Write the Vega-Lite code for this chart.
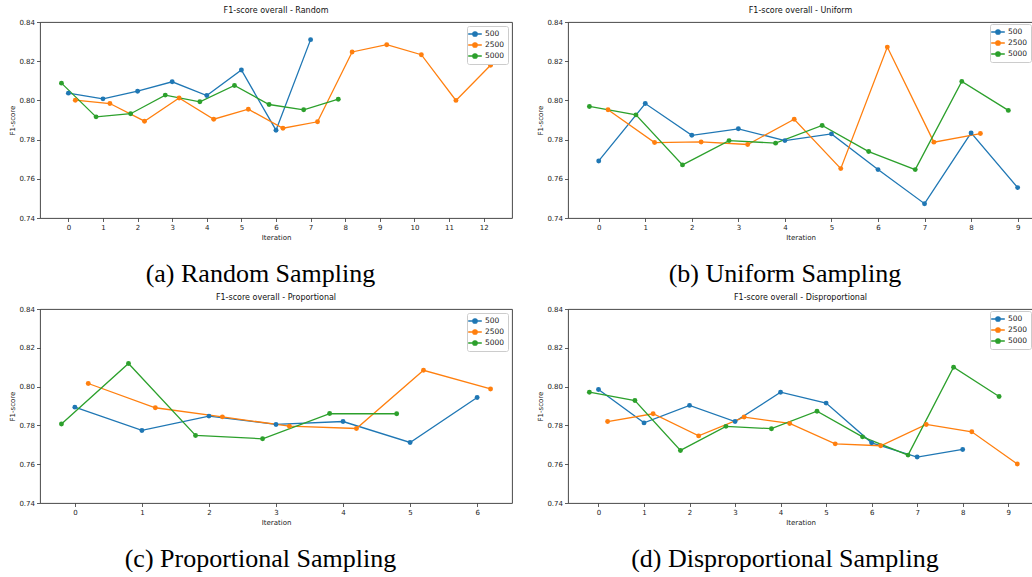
{
  "$schema": "https://vega.github.io/schema/vega-lite/v6.json",
  "padding": {"left": 8, "top": 6, "right": 0, "bottom": 0},
  "background": "white",
  "config": {
    "font": "DejaVu Sans",
    "view": {"stroke": "#333", "strokeWidth": 0.9},
    "axis": {"domain": false, "grid": false, "tickColor": "#333", "tickSize": 3.5, "tickWidth": 0.8, "labelFont": "DejaVu Sans", "labelFontSize": 7, "labelColor": "#222", "labelPadding": 2, "titleFont": "DejaVu Sans", "titleFontSize": 7, "titleFontWeight": "normal", "titleColor": "#222", "titlePadding": 3},
    "title": {"font": "DejaVu Sans", "fontSize": 8, "fontWeight": "normal", "color": "#111", "offset": 3},
    "legend": {"labelFont": "DejaVu Sans", "labelFontSize": 7.5, "labelColor": "#222", "title": null, "fillColor": "white", "strokeColor": "#ccc", "cornerRadius": 2, "padding": 3, "rowPadding": 1, "labelOffset": 5, "symbolType": "M-1.7,0L1.7,0M0.55,0A0.55,0.55,0,1,1,-0.55,0A0.55,0.55,0,1,1,0.55,0Z", "symbolSize": 64, "symbolStrokeWidth": 1.3}
  },
  "datasets": {
    "random": [
      {"size": "500", "x": 0, "f1": 0.8037}, {"size": "500", "x": 1, "f1": 0.8008}, {"size": "500", "x": 2, "f1": 0.8047}, {"size": "500", "x": 3, "f1": 0.8095}, {"size": "500", "x": 4, "f1": 0.8025}, {"size": "500", "x": 5, "f1": 0.8155}, {"size": "500", "x": 6, "f1": 0.7848}, {"size": "500", "x": 7, "f1": 0.8310},
      {"size": "2500", "x": 0.2, "f1": 0.8001}, {"size": "2500", "x": 1.2, "f1": 0.7984}, {"size": "2500", "x": 2.2, "f1": 0.7894}, {"size": "2500", "x": 3.2, "f1": 0.8012}, {"size": "2500", "x": 4.2, "f1": 0.7904}, {"size": "2500", "x": 5.2, "f1": 0.7955}, {"size": "2500", "x": 6.2, "f1": 0.7858}, {"size": "2500", "x": 7.2, "f1": 0.7891}, {"size": "2500", "x": 8.2, "f1": 0.8247}, {"size": "2500", "x": 9.2, "f1": 0.8284}, {"size": "2500", "x": 10.2, "f1": 0.8233}, {"size": "2500", "x": 11.2, "f1": 0.8000}, {"size": "2500", "x": 12.2, "f1": 0.8179},
      {"size": "5000", "x": -0.2, "f1": 0.8088}, {"size": "5000", "x": 0.8, "f1": 0.7916}, {"size": "5000", "x": 1.8, "f1": 0.7932}, {"size": "5000", "x": 2.8, "f1": 0.8027}, {"size": "5000", "x": 3.8, "f1": 0.7993}, {"size": "5000", "x": 4.8, "f1": 0.8076}, {"size": "5000", "x": 5.8, "f1": 0.7979}, {"size": "5000", "x": 6.8, "f1": 0.7952}, {"size": "5000", "x": 7.8, "f1": 0.8006}
    ],
    "uniform": [
      {"size": "500", "x": 0, "f1": 0.7691}, {"size": "500", "x": 1, "f1": 0.7984}, {"size": "500", "x": 2, "f1": 0.7822}, {"size": "500", "x": 3, "f1": 0.7855}, {"size": "500", "x": 4, "f1": 0.7795}, {"size": "500", "x": 5, "f1": 0.7829}, {"size": "500", "x": 6, "f1": 0.7647}, {"size": "500", "x": 7, "f1": 0.7473}, {"size": "500", "x": 8, "f1": 0.7834}, {"size": "500", "x": 9, "f1": 0.7555},
      {"size": "2500", "x": 0.2, "f1": 0.7952}, {"size": "2500", "x": 1.2, "f1": 0.7785}, {"size": "2500", "x": 2.2, "f1": 0.7788}, {"size": "2500", "x": 3.2, "f1": 0.7775}, {"size": "2500", "x": 4.2, "f1": 0.7904}, {"size": "2500", "x": 5.2, "f1": 0.7652}, {"size": "2500", "x": 6.2, "f1": 0.8272}, {"size": "2500", "x": 7.2, "f1": 0.7787}, {"size": "2500", "x": 8.2, "f1": 0.7831},
      {"size": "5000", "x": -0.2, "f1": 0.7969}, {"size": "5000", "x": 0.8, "f1": 0.7926}, {"size": "5000", "x": 1.8, "f1": 0.7671}, {"size": "5000", "x": 2.8, "f1": 0.7795}, {"size": "5000", "x": 3.8, "f1": 0.7782}, {"size": "5000", "x": 4.8, "f1": 0.7872}, {"size": "5000", "x": 5.8, "f1": 0.7739}, {"size": "5000", "x": 6.8, "f1": 0.7647}, {"size": "5000", "x": 7.8, "f1": 0.8097}, {"size": "5000", "x": 8.8, "f1": 0.7949}
    ],
    "proportional": [
      {"size": "500", "x": 0, "f1": 0.7894}, {"size": "500", "x": 1, "f1": 0.7774}, {"size": "500", "x": 2, "f1": 0.7848}, {"size": "500", "x": 3, "f1": 0.7805}, {"size": "500", "x": 4, "f1": 0.7820}, {"size": "500", "x": 5, "f1": 0.7712}, {"size": "500", "x": 6, "f1": 0.7944},
      {"size": "2500", "x": 0.2, "f1": 0.8016}, {"size": "2500", "x": 1.2, "f1": 0.7891}, {"size": "2500", "x": 2.2, "f1": 0.7844}, {"size": "2500", "x": 3.2, "f1": 0.7796}, {"size": "2500", "x": 4.2, "f1": 0.7784}, {"size": "2500", "x": 5.2, "f1": 0.8084}, {"size": "2500", "x": 6.2, "f1": 0.7988},
      {"size": "5000", "x": -0.2, "f1": 0.7807}, {"size": "5000", "x": 0.8, "f1": 0.8119}, {"size": "5000", "x": 1.8, "f1": 0.7748}, {"size": "5000", "x": 2.8, "f1": 0.7731}, {"size": "5000", "x": 3.8, "f1": 0.7861}, {"size": "5000", "x": 4.8, "f1": 0.7860}
    ],
    "disproportional": [
      {"size": "500", "x": 0, "f1": 0.7985}, {"size": "500", "x": 1, "f1": 0.7813}, {"size": "500", "x": 2, "f1": 0.7903}, {"size": "500", "x": 3, "f1": 0.7820}, {"size": "500", "x": 4, "f1": 0.7971}, {"size": "500", "x": 5, "f1": 0.7915}, {"size": "500", "x": 6, "f1": 0.7710}, {"size": "500", "x": 7, "f1": 0.7637}, {"size": "500", "x": 8, "f1": 0.7676},
      {"size": "2500", "x": 0.2, "f1": 0.7820}, {"size": "2500", "x": 1.2, "f1": 0.7860}, {"size": "2500", "x": 2.2, "f1": 0.7746}, {"size": "2500", "x": 3.2, "f1": 0.7843}, {"size": "2500", "x": 4.2, "f1": 0.7810}, {"size": "2500", "x": 5.2, "f1": 0.7705}, {"size": "2500", "x": 6.2, "f1": 0.7695}, {"size": "2500", "x": 7.2, "f1": 0.7805}, {"size": "2500", "x": 8.2, "f1": 0.7767}, {"size": "2500", "x": 9.2, "f1": 0.7601},
      {"size": "5000", "x": -0.2, "f1": 0.7971}, {"size": "5000", "x": 0.8, "f1": 0.7928}, {"size": "5000", "x": 1.8, "f1": 0.7671}, {"size": "5000", "x": 2.8, "f1": 0.7795}, {"size": "5000", "x": 3.8, "f1": 0.7783}, {"size": "5000", "x": 4.8, "f1": 0.7873}, {"size": "5000", "x": 5.8, "f1": 0.7741}, {"size": "5000", "x": 6.8, "f1": 0.7647}, {"size": "5000", "x": 7.8, "f1": 0.8100}, {"size": "5000", "x": 8.8, "f1": 0.7949}
    ]
  },
  "columns": 2,
  "spacing": {"row": 6, "column": 23},
  "resolve": {"scale": {"color": "independent", "x": "independent", "y": "independent"}, "legend": {"color": "independent"}},
  "concat": [
    {
      "title": {"text": "(a) Random Sampling", "orient": "bottom", "font": "Liberation Serif", "fontSize": 26, "color": "#000", "offset": 20, "anchor": "middle"},
      "resolve": {"scale": {"color": "independent"}, "legend": {"color": "independent"}},
      "vconcat": [{
        "title": "F1-score overall - Random",
        "width": 472, "height": 196,
        "data": {"name": "random"},
        "encoding": {
          "x": {"field": "x", "type": "quantitative", "scale": {"domain": [-0.82, 12.82], "nice": false, "zero": false}, "axis": {"values": [0,1,2,3,4,5,6,7,8,9,10,11,12], "title": "Iteration", "format": "d"}},
          "y": {"field": "f1", "type": "quantitative", "scale": {"domain": [0.74, 0.84], "nice": false, "zero": false}, "axis": {"values": [0.74,0.76,0.78,0.8,0.82,0.84], "format": ".2f", "title": "F1-score"}},
          "color": {"field": "size", "type": "nominal", "scale": {"domain": ["500","2500","5000"], "range": ["#1f77b4","#ff7f0e","#2ca02c"]},
            "legend": {"orient": "top-right", "offset": 4,
              "encode": {"symbols": {"update": {"fill": {"signal": "datum.value === '500' ? '#1f77b4' : datum.value === '2500' ? '#ff7f0e' : '#2ca02c'"}, "stroke": {"signal": "datum.value === '500' ? '#1f77b4' : datum.value === '2500' ? '#ff7f0e' : '#2ca02c'"}, "opacity": {"value": 1}}}}}}
        },
        "layer": [
          {"mark": {"type": "line", "strokeWidth": 1.3}},
          {"mark": {"type": "circle", "size": 24, "opacity": 1}}
        ]
      }]
    },
    {
      "title": {"text": "(b) Uniform Sampling", "orient": "bottom", "font": "Liberation Serif", "fontSize": 26, "color": "#000", "offset": 20, "anchor": "middle"},
      "resolve": {"scale": {"color": "independent"}, "legend": {"color": "independent"}},
      "vconcat": [{
        "title": "F1-score overall - Uniform",
        "width": 465, "height": 196,
        "data": {"name": "uniform"},
        "encoding": {
          "x": {"field": "x", "type": "quantitative", "scale": {"domain": [-0.66, 9.33], "nice": false, "zero": false}, "axis": {"values": [0,1,2,3,4,5,6,7,8,9], "title": "Iteration", "format": "d"}},
          "y": {"field": "f1", "type": "quantitative", "scale": {"domain": [0.74, 0.84], "nice": false, "zero": false}, "axis": {"values": [0.74,0.76,0.78,0.8,0.82,0.84], "format": ".2f", "title": "F1-score"}},
          "color": {"field": "size", "type": "nominal", "scale": {"domain": ["500","2500","5000"], "range": ["#1f77b4","#ff7f0e","#2ca02c"]},
            "legend": {"orient": "top-right", "offset": 2,
              "encode": {"symbols": {"update": {"fill": {"signal": "datum.value === '500' ? '#1f77b4' : datum.value === '2500' ? '#ff7f0e' : '#2ca02c'"}, "stroke": {"signal": "datum.value === '500' ? '#1f77b4' : datum.value === '2500' ? '#ff7f0e' : '#2ca02c'"}, "opacity": {"value": 1}}}}}}
        },
        "layer": [
          {"mark": {"type": "line", "strokeWidth": 1.3}},
          {"mark": {"type": "circle", "size": 24, "opacity": 1}}
        ]
      }]
    },
    {
      "title": {"text": "(c) Proportional Sampling", "orient": "bottom", "font": "Liberation Serif", "fontSize": 26, "color": "#000", "offset": 20, "anchor": "middle"},
      "resolve": {"scale": {"color": "independent"}, "legend": {"color": "independent"}},
      "vconcat": [{
        "title": "F1-score overall - Proportional",
        "width": 472, "height": 194,
        "data": {"name": "proportional"},
        "encoding": {
          "x": {"field": "x", "type": "quantitative", "scale": {"domain": [-0.52, 6.52], "nice": false, "zero": false}, "axis": {"values": [0,1,2,3,4,5,6], "title": "Iteration", "format": "d"}},
          "y": {"field": "f1", "type": "quantitative", "scale": {"domain": [0.74, 0.84], "nice": false, "zero": false}, "axis": {"values": [0.74,0.76,0.78,0.8,0.82,0.84], "format": ".2f", "title": "F1-score"}},
          "color": {"field": "size", "type": "nominal", "scale": {"domain": ["500","2500","5000"], "range": ["#1f77b4","#ff7f0e","#2ca02c"]},
            "legend": {"orient": "top-right", "offset": 4,
              "encode": {"symbols": {"update": {"fill": {"signal": "datum.value === '500' ? '#1f77b4' : datum.value === '2500' ? '#ff7f0e' : '#2ca02c'"}, "stroke": {"signal": "datum.value === '500' ? '#1f77b4' : datum.value === '2500' ? '#ff7f0e' : '#2ca02c'"}, "opacity": {"value": 1}}}}}}
        },
        "layer": [
          {"mark": {"type": "line", "strokeWidth": 1.3}},
          {"mark": {"type": "circle", "size": 24, "opacity": 1}}
        ]
      }]
    },
    {
      "title": {"text": "(d) Disproportional Sampling", "orient": "bottom", "font": "Liberation Serif", "fontSize": 26, "color": "#000", "offset": 20, "anchor": "middle"},
      "resolve": {"scale": {"color": "independent"}, "legend": {"color": "independent"}},
      "vconcat": [{
        "title": "F1-score overall - Disproportional",
        "width": 465, "height": 194,
        "data": {"name": "disproportional"},
        "encoding": {
          "x": {"field": "x", "type": "quantitative", "scale": {"domain": [-0.67, 9.545], "nice": false, "zero": false}, "axis": {"values": [0,1,2,3,4,5,6,7,8,9], "title": "Iteration", "format": "d"}},
          "y": {"field": "f1", "type": "quantitative", "scale": {"domain": [0.74, 0.84], "nice": false, "zero": false}, "axis": {"values": [0.74,0.76,0.78,0.8,0.82,0.84], "format": ".2f", "title": "F1-score"}},
          "color": {"field": "size", "type": "nominal", "scale": {"domain": ["500","2500","5000"], "range": ["#1f77b4","#ff7f0e","#2ca02c"]},
            "legend": {"orient": "top-right", "offset": 2,
              "encode": {"symbols": {"update": {"fill": {"signal": "datum.value === '500' ? '#1f77b4' : datum.value === '2500' ? '#ff7f0e' : '#2ca02c'"}, "stroke": {"signal": "datum.value === '500' ? '#1f77b4' : datum.value === '2500' ? '#ff7f0e' : '#2ca02c'"}, "opacity": {"value": 1}}}}}}
        },
        "layer": [
          {"mark": {"type": "line", "strokeWidth": 1.3}},
          {"mark": {"type": "circle", "size": 24, "opacity": 1}}
        ]
      }]
    }
  ]
}
